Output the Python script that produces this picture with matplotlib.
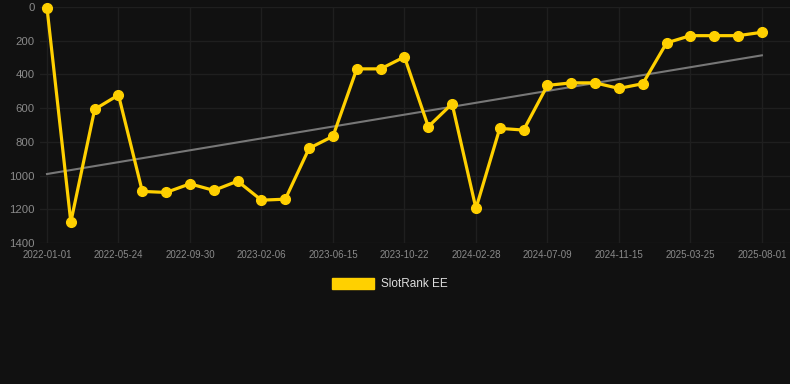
import matplotlib.pyplot as plt
import numpy as np

# rank values, one per sample (lower is better, axis is inverted)
ranks = [5, 1276, 607, 522, 1094, 1100, 1049, 1088, 1033, 1146, 1140,
         838, 767, 367, 367, 296, 710, 574, 1195, 720, 730,
         465, 450, 450, 483, 455, 213, 170, 170, 170, 150]
tick_labels = ['2022-01-01', '2022-05-24', '2022-09-30', '2023-02-06',
               '2023-06-15', '2023-10-22', '2024-02-28', '2024-07-09',
               '2024-11-15', '2025-03-25', '2025-08-01']
series_name = 'SlotRank EE'

plt.rcParams['font.family'] = ['Liberation Sans', 'DejaVu Sans']

bg = '#111111'
yellow = '#FFD000'

fig = plt.figure(figsize=(7.9, 3.84), dpi=100, facecolor=bg)
ax = fig.add_axes([40 / 790, 1 - 243 / 384, 750 / 790, 236 / 384], facecolor=bg)

x = np.arange(len(ranks))
# linear trend
k, b = np.polyfit(x, ranks, 1)
ax.plot(x, k * x + b, color='#777777', lw=1.5, zorder=2)

ax.plot(x, ranks, color=yellow, lw=2.3, marker='o', ms=7, zorder=3,
        clip_on=False, label=series_name)

ax.set_ylim(1400, 0)
ax.set_xlim(-(47 - 40) / 23.83, (790 - 47) / 23.83)
ax.set_yticks(range(0, 1401, 200))
ax.set_xticks(x[::3])
ax.set_xticklabels(tick_labels)

ax.grid(True, color='#1f1f1f', lw=1)
ax.set_axisbelow(True)
for s in ax.spines.values():
    s.set_visible(False)
ax.tick_params(axis='both', length=0, colors='#8a8a8a')
ax.tick_params(axis='y', labelsize=8.2, pad=4)
ax.tick_params(axis='x', labelsize=7, pad=5)

leg = fig.legend(handles=[plt.Rectangle((0, 0), 1, 1, color=yellow)],
                 labels=[series_name], loc='center', bbox_to_anchor=(390 / 790, 1 - 284 / 384),
                 frameon=False, fontsize=8.5, handlelength=3.6, handleheight=1.1,
                 handletextpad=0.6)
for t in leg.get_texts():
    t.set_color('#dddddd')

fig.savefig('out.png', dpi=100, facecolor=bg)
